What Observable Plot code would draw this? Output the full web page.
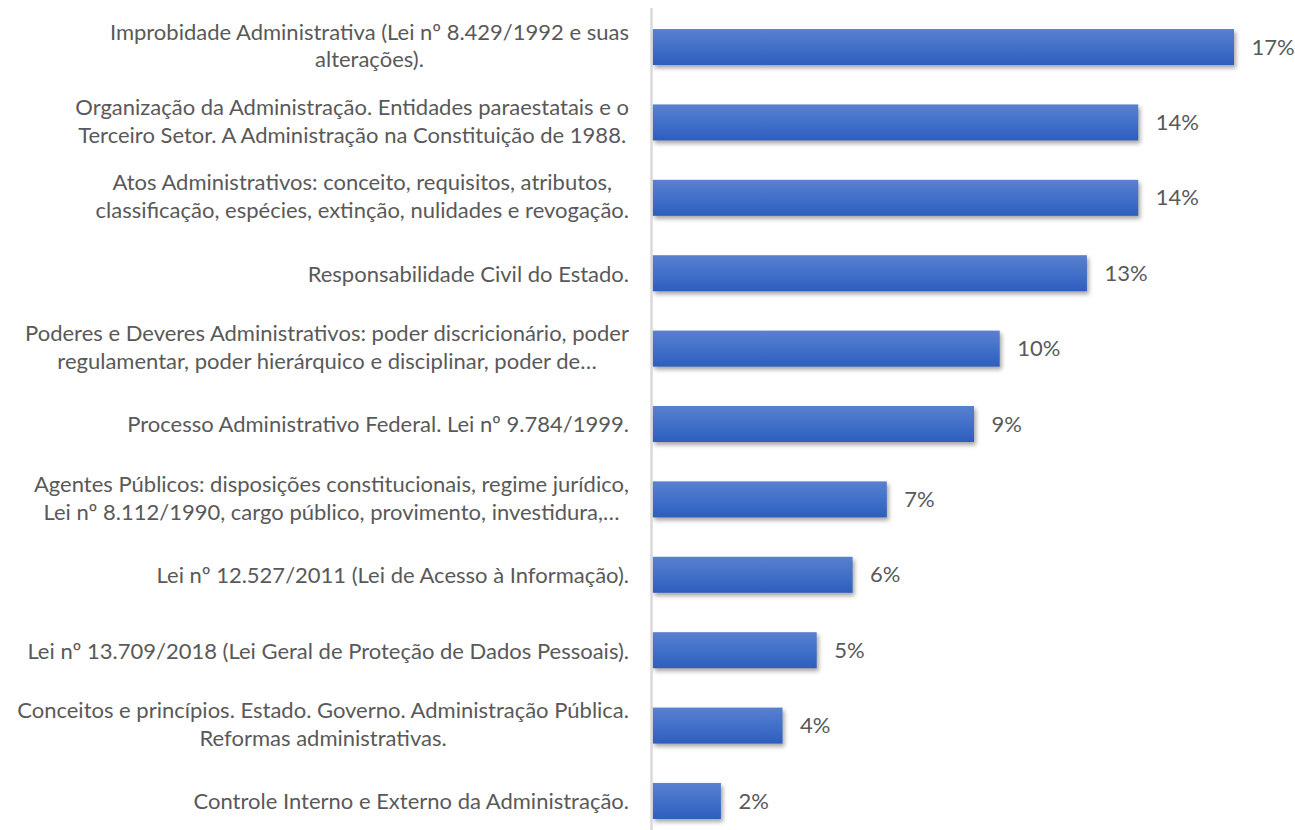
<!DOCTYPE html>
<html>
<head>
<meta charset="utf-8">
<script src="https://cdn.jsdelivr.net/npm/d3@7"></script>
<script src="https://cdn.jsdelivr.net/npm/@observablehq/plot@0.6"></script>
<style>
  html, body { margin: 0; padding: 0; background: #ffffff; }
  #chart { width: 1295px; height: 830px; }
</style>
</head>
<body>
<div id="chart"></div>
<script>
const topics = [
  "Improbidade Administrativa (Lei nº 8.429/1992 e suas\nalterações).",
  "Organização da Administração. Entidades paraestatais e o\nTerceiro Setor. A Administração na Constituição de 1988.",
  "Atos Administrativos: conceito, requisitos, atributos,\nclassificação, espécies, extinção, nulidades e revogação.",
  "Responsabilidade Civil do Estado.",
  "Poderes e Deveres Administrativos: poder discricionário, poder\nregulamentar, poder hierárquico e disciplinar, poder de…",
  "Processo Administrativo Federal. Lei nº 9.784/1999.",
  "Agentes Públicos: disposições constitucionais, regime jurídico,\nLei nº 8.112/1990, cargo público, provimento, investidura,…",
  "Lei nº 12.527/2011 (Lei de Acesso à Informação).",
  "Lei nº 13.709/2018 (Lei Geral de Proteção de Dados Pessoais).",
  "Conceitos e princípios. Estado. Governo. Administração Pública.\nReformas administrativas.",
  "Controle Interno e Externo da Administração."
];
const shares = [17.0, 14.2, 14.2, 12.7, 10.15, 9.4, 6.85, 5.85, 4.8, 3.8, 2.0];
const shareLabels = ["17%", "14%", "14%", "13%", "10%", "9%", "7%", "6%", "5%", "4%", "2%"];

const data = topics.map((t, i) => ({topic: t, value: shares[i], label: shareLabels[i]}));

const FONT = "Lato, 'Open Sans', sans-serif";
const FS = 22;

const defs = () => {
  const d = d3.create("svg:defs");
  const g = d.append("linearGradient").attr("id", "barGrad")
    .attr("x1", 0).attr("y1", 0).attr("x2", 0).attr("y2", 1);
  g.append("stop").attr("offset", "0%").attr("stop-color", "#5a80cf");
  g.append("stop").attr("offset", "55%").attr("stop-color", "#3f6fc9");
  g.append("stop").attr("offset", "100%").attr("stop-color", "#2e5ebd");
  return d.node();
};

const chart = Plot.plot({
  width: 1295,
  height: 830,
  marginLeft: 652.5,
  marginRight: 61,
  marginTop: 21.5,
  marginBottom: 3.5,
  style: {fontFamily: FONT, fontSize: FS + "px", color: "#595959", background: "#ffffff"},
  x: {domain: [0, 17], axis: null},
  y: {domain: topics, axis: null, paddingInner: 0.5225, paddingOuter: 0.1, round: false},
  marks: [
    defs,
    Plot.barX(data, {
      x: "value", y: "topic", fill: "url(#barGrad)",
      imageFilter: "drop-shadow(2px 3px 2px rgba(0,0,0,0.35))"
    }),
    Plot.ruleX([0], {stroke: "#d9d9d9", strokeWidth: 2.5, dx: -1.5, insetTop: -13.5, insetBottom: -4}),
    Plot.text(data, {
      x: "value", y: "topic", text: "label", textAnchor: "start", dx: 17,
      fill: "#595959", fontSize: FS
    }),
    Plot.text(data, {
      x: 0, y: "topic", text: "topic", textAnchor: "end", dx: -24, dy: -1,
      lineWidth: 1000, lineHeight: 28 / FS, fill: "#595959", fontSize: FS,
      className: "topic-labels"
    })
  ]
});

document.getElementById("chart").appendChild(chart);

// center multi-line labels within their block (block right-aligned)
d3.select(chart).selectAll("g.topic-labels text").each(function() {
  const tspans = this.querySelectorAll("tspan");
  if (tspans.length < 2) return;
  let w = 0;
  tspans.forEach(t => { w = Math.max(w, t.getComputedTextLength()); });
  this.setAttribute("text-anchor", "middle");
  tspans.forEach(t => t.setAttribute("x", -w / 2));
  const tr = this.getAttribute("transform") || "";
  this.setAttribute("transform", tr + " translate(0,-2)");
});
</script>
</body>
</html>
